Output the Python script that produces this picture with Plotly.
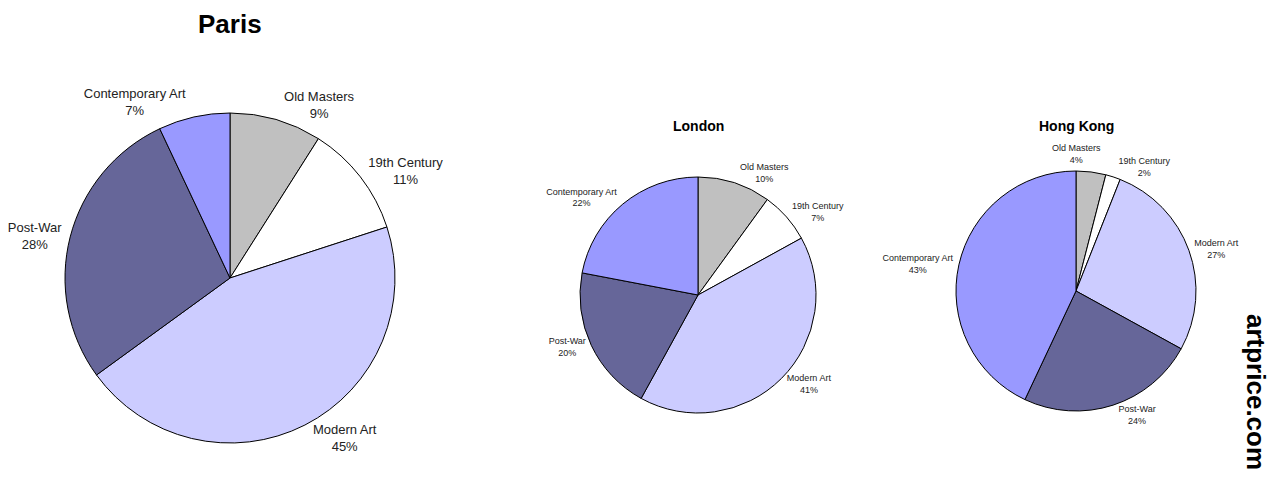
import math
import plotly.graph_objects as go

W, H = 1270, 477

categories = ["Old Masters", "19th Century", "Modern Art", "Post-War", "Contemporary Art"]
colors = ["#C0C0C0", "#FFFFFF", "#CCCCFF", "#666699", "#9999FF"]

paris_values = [9, 11, 45, 28, 7]
london_values = [10, 7, 41, 20, 22]
hongkong_values = [4, 2, 27, 24, 43]

FONT = "Liberation Sans, Arial, sans-serif"

# pie placement: center (px), radius (px), label font, title font; 'ann' = labels drawn as annotations
pies = [
    dict(name="Paris", values=paris_values, cx=230, cy=278, r=165, fs=13, tfs=26, ty=24, ann=[]),
    dict(name="London", values=london_values, cx=698, cy=295, r=118, fs=9, tfs=14, ty=126, ann=[]),
    dict(name="Hong Kong", values=hongkong_values, cx=1076, cy=291, r=120, fs=9, tfs=14, ty=126, ann=[0]),
]

fig = go.Figure()
for p in pies:
    cx, cy, r = p["cx"], p["cy"], p["r"]
    vals = p["values"]
    total = float(sum(vals))
    texts = ["" if i in p["ann"] else "%s<br>%d%%" % (c, v)
             for i, (c, v) in enumerate(zip(categories, vals))]
    fig.add_trace(go.Pie(
        labels=categories,
        values=vals,
        text=texts,
        textinfo="text",
        sort=False,
        direction="clockwise",
        rotation=0,
        marker=dict(colors=colors, line=dict(color="#000000", width=1)),
        textposition="outside",
        textfont=dict(family=FONT, size=p["fs"], color="#222222"),
        domain=dict(x=[(cx - r) / W, (cx + r) / W], y=[1 - (cy + r) / H, 1 - (cy - r) / H]),
        showlegend=False,
        hoverinfo="label+percent",
    ))
    # labels placed as annotations (computed from slice mid-angle)
    cum = 0.0
    for i, v in enumerate(vals):
        mid = (cum + v / 2.0) / total * 2 * math.pi
        cum += v
        if i not in p["ann"]:
            continue
        s, c = math.sin(mid), math.cos(mid)
        txt = "%s<br>%d%%" % (categories[i], v)
        w = len(categories[i]) * p["fs"] * 0.55
        h = 2 * p["fs"] * 1.3
        px = cx + (r + 6) * s + s * w / 2 - w * 0.35
        py = cy - (r + 6) * c - c * h / 2
        fig.add_annotation(
            text=txt, xref="paper", yref="paper", x=px / W, y=1 - py / H,
            showarrow=False, xanchor="center", yanchor="middle",
            font=dict(family=FONT, size=p["fs"], color="#222222"),
        )
    fig.add_annotation(
        text="<b>%s</b>" % p["name"], xref="paper", yref="paper",
        x=cx / W, y=1 - p["ty"] / H, showarrow=False,
        xanchor="center", yanchor="middle",
        font=dict(family=FONT, size=p["tfs"], color="#000000"),
    )

fig.add_annotation(
    text="<b>artprice.com</b>", xref="paper", yref="paper",
    x=1256 / W, y=1 - 392 / H, showarrow=False, textangle=90,
    xanchor="center", yanchor="middle",
    font=dict(family=FONT, size=26, color="#000000"),
)

fig.update_layout(
    width=W, height=H,
    margin=dict(l=0, r=0, t=0, b=0),
    paper_bgcolor="#FFFFFF", plot_bgcolor="#FFFFFF",
)

fig.write_html("out.html", config={"displayModeBar": False},
               post_script="document.body.style.margin='0';")
